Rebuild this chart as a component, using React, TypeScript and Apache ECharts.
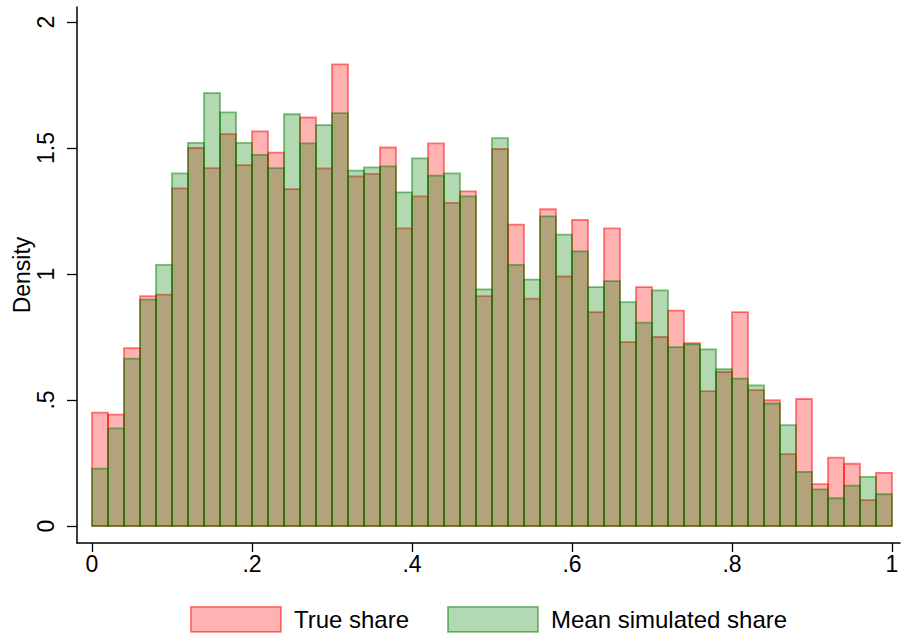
import React, { useEffect, useRef } from "react";
import * as echarts from "echarts";

// Histogram bins: 50 bins of width 0.02 from 0 to 1
const BIN_START = 0;
const BIN_WIDTH = 0.02;

const trueShare = [
  0.45, 0.442, 0.706, 0.912, 0.918, 1.34, 1.5, 1.42, 1.555, 1.432,
  1.566, 1.482, 1.337, 1.621, 1.419, 1.832, 1.387, 1.397, 1.502, 1.181,
  1.308, 1.518, 1.282, 1.328, 0.912, 1.496, 1.196, 0.902, 1.257, 0.99,
  1.215, 0.849, 1.181, 0.73, 0.948, 0.75, 0.855, 0.726, 0.535, 0.611,
  0.849, 0.539, 0.499, 0.285, 0.504, 0.166, 0.271, 0.247, 0.103, 0.211,
];

const meanSimShare = [
  0.228, 0.387, 0.664, 0.898, 1.036, 1.399, 1.52, 1.718, 1.641, 1.52,
  1.473, 1.42, 1.634, 1.518, 1.591, 1.638, 1.41, 1.423, 1.427, 1.324,
  1.459, 1.39, 1.399, 1.308, 0.939, 1.539, 1.036, 0.978, 1.229, 1.156,
  1.09, 0.948, 0.972, 0.888, 0.807, 0.935, 0.71, 0.721, 0.701, 0.622,
  0.585, 0.558, 0.486, 0.4, 0.215, 0.145, 0.11, 0.16, 0.195, 0.126,
];

const xTicks = [0, 0.2, 0.4, 0.6, 0.8, 1];
const yTicks = [0, 0.5, 1, 1.5, 2];
const seriesNames = ["True share", "Mean simulated share"];

const FONT = "'Liberation Sans', Arial, Helvetica, sans-serif";
const RED_FILL = "rgba(255,0,0,0.3)";
const RED_LINE = "rgba(255,0,0,0.5)";
const GREEN_FILL = "rgba(0,128,0,0.3)";
const GREEN_LINE = "rgba(0,128,0,0.5)";

const fmt = (v: number) => {
  if (v === 0) return "0";
  if (v === 1) return "1";
  if (v === 2) return "2";
  const s = String(Math.round(v * 10) / 10);
  return s.startsWith("0") ? s.slice(1) : s;
};

function toBins(values: number[]) {
  return values.map((v, i) => [
    BIN_START + i * BIN_WIDTH,
    BIN_START + (i + 1) * BIN_WIDTH,
    v,
  ]);
}

function makeRender(fill: string, stroke: string) {
  return (params: any, api: any) => {
    const x0 = api.value(0);
    const x1 = api.value(1);
    const v = api.value(2);
    const tl = api.coord([x0, v]);
    const br = api.coord([x1, 0]);
    return {
      type: "rect",
      shape: { x: tl[0], y: tl[1], width: br[0] - tl[0], height: br[1] - tl[1] },
      style: { fill, stroke, lineWidth: 1.8 },
    };
  };
}

export default function App() {
  const ref = useRef<HTMLDivElement>(null);
  useEffect(() => {
    if (!ref.current) return;
    const chart = echarts.init(ref.current, undefined, { renderer: "svg" });
    chart.setOption({
      animation: false,
      backgroundColor: "#ffffff",
      textStyle: { fontFamily: FONT },
      grid: {
        left: 77,
        top: 7,
        width: 823,
        height: 536,
        containLabel: false,
        outerBoundsMode: "none",
      },
      xAxis: {
        type: "value",
        min: -0.01875,
        max: 1.01,
        splitLine: { show: false },
        axisLine: { show: true, onZero: false, lineStyle: { color: "#000", width: 1.5 } },
        axisTick: {
          show: true,
          length: 9,
          lineStyle: { color: "#000", width: 1.3 },
          customValues: xTicks,
        },
        axisLabel: {
          color: "#000",
          fontSize: 23,
          fontFamily: FONT,
          margin: 9,
          customValues: xTicks,
          formatter: (v: number) => fmt(v),
        },
      },
      yAxis: {
        type: "value",
        min: -0.0675,
        max: 2.0595,
        name: "Density",
        nameLocation: "middle",
        nameGap: 44,
        nameMoveOverlap: false,
        nameRotate: 90,
        nameTextStyle: { color: "#000", fontSize: 23, fontFamily: FONT },
        splitLine: { show: false },
        axisLine: { show: true, onZero: false, lineStyle: { color: "#000", width: 1.5 } },
        axisTick: {
          show: true,
          length: 10,
          lineStyle: { color: "#000", width: 1.3 },
          customValues: yTicks,
        },
        axisLabel: {
          color: "#000",
          fontSize: 23,
          fontFamily: FONT,
          rotate: 90,
          margin: 20,
          customValues: yTicks,
          formatter: (v: number) => fmt(v),
        },
      },
      legend: {
        left: 190,
        top: 606,
        padding: 0,
        itemWidth: 90,
        itemHeight: 25,
        itemGap: 38,
        textStyle: {
          color: "#000",
          fontSize: 24,
          lineHeight: 25,
          fontFamily: FONT,
          padding: [0, 0, 0, 8],
        },
        data: [
          {
            name: seriesNames[0],
            icon: "rect",
            itemStyle: { color: RED_FILL, borderColor: RED_LINE, borderWidth: 1.8 },
          },
          {
            name: seriesNames[1],
            icon: "rect",
            itemStyle: { color: GREEN_FILL, borderColor: GREEN_LINE, borderWidth: 1.8 },
          },
        ],
      },
      series: [
        {
          name: seriesNames[0],
          type: "custom",
          renderItem: makeRender(RED_FILL, RED_LINE),
          encode: { x: [0, 1], y: 2 },
          itemStyle: { color: RED_FILL, borderColor: RED_LINE },
          data: toBins(trueShare),
        },
        {
          name: seriesNames[1],
          type: "custom",
          renderItem: makeRender(GREEN_FILL, GREEN_LINE),
          encode: { x: [0, 1], y: 2 },
          itemStyle: { color: GREEN_FILL, borderColor: GREEN_LINE },
          data: toBins(meanSimShare),
        },
      ],
    });
    return () => chart.dispose();
  }, []);
  return (
    <div
      ref={ref}
      style={{ position: "fixed", left: 0, top: 0, width: 902, height: 635, background: "#fff" }}
    />
  );
}
